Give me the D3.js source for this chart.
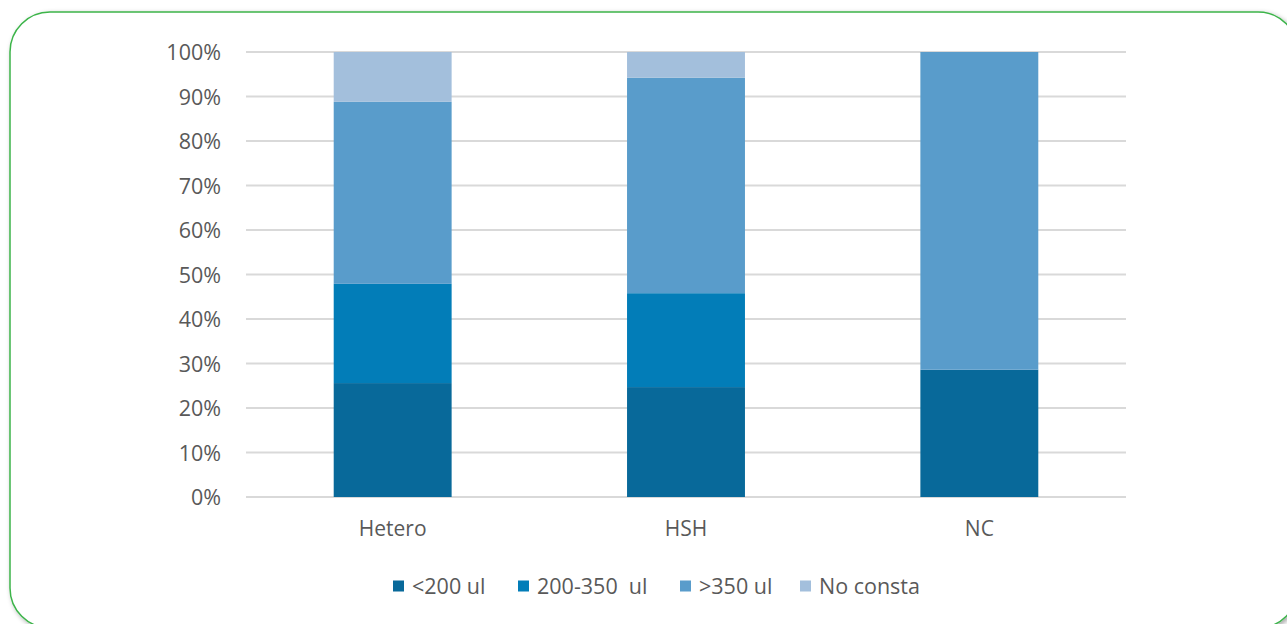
<!DOCTYPE html>
<html>
<head>
<meta charset="utf-8">
<script src="https://cdn.jsdelivr.net/npm/d3@7"></script>
<style>
  html, body { margin: 0; padding: 0; background: #ffffff; overflow: hidden; }
  svg { display: block; }
  text { font-family: "Open Sans", Lato, sans-serif; fill: #595959; }
</style>
</head>
<body>
<svg id="chart" width="1287" height="624"></svg>
<script>
// Transmission groups on the x axis
const categories = ["Hetero", "HSH", "NC"];
// CD4 count bands, stacked bottom to top
const seriesNames = ["<200 ul", "200-350  ul", ">350 ul", "No consta"];
// Share of each band per group (%)
const under200     = [25.6, 24.7, 28.6];
const from200to350 = [22.3, 21.1, 0];
const over350      = [40.9, 48.4, 71.4];
const noConsta     = [11.2, 5.8, 0];
const yTicks = [0, 10, 20, 30, 40, 50, 60, 70, 80, 90, 100];

const colors = ["#08699a", "#027db8", "#599ccb", "#a3bfdc"];

const svg = d3.select("#chart");

// Card frame with soft shadow
const defs = svg.append("defs");
const f = defs.append("filter").attr("id", "shadow")
  .attr("x", "-5%").attr("y", "-5%").attr("width", "110%").attr("height", "110%");
f.append("feDropShadow").attr("dx", 2).attr("dy", 2).attr("stdDeviation", 2.5)
  .attr("flood-color", "#000").attr("flood-opacity", 0.35);

svg.append("rect")
  .attr("x", 10).attr("y", 12).attr("width", 1288).attr("height", 616)
  .attr("rx", 40).attr("ry", 40)
  .attr("fill", "#ffffff").attr("stroke", "#3cb44a").attr("stroke-width", 1.5)
  .attr("filter", "url(#shadow)");

const margin = { left: 246, right: 1126, top: 52, bottom: 497 };

const x = d3.scaleBand().domain(categories)
  .range([margin.left, margin.right])
  .paddingInner(0.598).paddingOuter(0.299);

const y = d3.scaleLinear().domain([0, 100]).range([margin.bottom, margin.top]);

// Gridlines
svg.append("g").selectAll("line").data(yTicks).join("line")
  .attr("x1", margin.left).attr("x2", margin.right)
  .attr("y1", d => y(d)).attr("y2", d => y(d))
  .attr("stroke", "#d9d9d9").attr("stroke-width", 2);

// Y axis labels
const yAxis = d3.axisLeft(y).tickValues(yTicks).tickFormat(d => d + "%").tickSize(0).tickPadding(25);
const gy = svg.append("g").attr("transform", `translate(${margin.left},0)`).call(yAxis);
gy.select(".domain").remove();
gy.selectAll("text").attr("font-size", 21.5).attr("font-family", "'Open Sans', sans-serif")
  .attr("fill", "#595959").attr("dy", "0.36em");

// Stacked bars
const rows = categories.map((c, i) => ({
  cat: c,
  [seriesNames[0]]: under200[i],
  [seriesNames[1]]: from200to350[i],
  [seriesNames[2]]: over350[i],
  [seriesNames[3]]: noConsta[i]
}));
const stacked = d3.stack().keys(seriesNames)(rows);

svg.append("g").selectAll("g").data(stacked).join("g")
  .attr("fill", (d, i) => colors[i])
  .selectAll("rect").data(d => d).join("rect")
  .attr("x", d => x(d.data.cat))
  .attr("width", x.bandwidth())
  .attr("y", d => y(d[1]))
  .attr("height", d => y(d[0]) - y(d[1]));

// X axis labels
const xAxis = d3.axisBottom(x).tickSize(0).tickPadding(24);
const gx = svg.append("g").attr("transform", `translate(0,${margin.bottom})`).call(xAxis);
gx.select(".domain").remove();
gx.selectAll("text").attr("font-size", 21).attr("font-family", "'Open Sans', sans-serif")
  .attr("fill", "#595959");

// Legend
const legendX = [393, 518, 680, 800];
const lg = svg.append("g").selectAll("g").data(seriesNames).join("g")
  .attr("transform", (d, i) => `translate(${legendX[i]},586)`);
lg.append("rect").attr("x", 0).attr("y", -5.5).attr("width", 11).attr("height", 11)
  .attr("fill", (d, i) => colors[i]);
lg.append("text").attr("x", 19).attr("y", 0).attr("dy", "0.36em")
  .attr("font-size", 21.5).attr("xml:space", "preserve").style("white-space", "pre")
  .text(d => d);
</script>
</body>
</html>
